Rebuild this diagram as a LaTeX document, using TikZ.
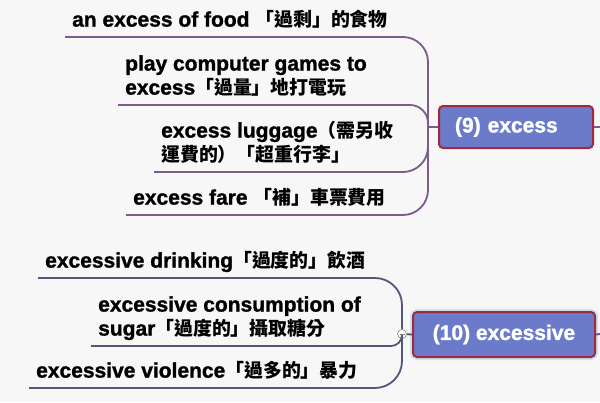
\documentclass[tikz,border=0pt]{standalone}
\usepackage{fontspec}
\setmainfont{Liberation Sans}[BoldFeatures={FakeBold=1.3}]
\newfontfamily\cjk{Noto Sans CJK TC}[Scale=0.9]
\usetikzlibrary{positioning}
\newcommand{\zh}[1]{{\cjk\bfseries #1}}
\definecolor{bgcol}{HTML}{F7F7F7}
\definecolor{linkA}{HTML}{7D5B8C}
\definecolor{linkB}{HTML}{55557A}
\definecolor{boxfill}{HTML}{6C7BC9}
\definecolor{boxline}{HTML}{A3283F}
\definecolor{glow}{HTML}{C4E6E8}

\begin{document}
\begin{tikzpicture}[x=1pt,y=-1pt,
	leaf/.style={anchor=south west,inner xsep=7pt,inner ysep=3pt,align=left,font=\fontsize{21}{24}\selectfont\bfseries,execute at end node=\strut},
	topic/.style={draw=boxline,fill=boxfill,line width=2pt,rounded corners=4pt,text=white,font=\fontsize{21}{24}\selectfont\bfseries},
	branchA/.style={draw=linkA,line width=1.8pt},
	branchB/.style={draw=linkB,line width=1.8pt}]
	\fill[bgcol] (0,0) rectangle (600,402);
	\useasboundingbox (0,0) rectangle (600,402);
	% (9) excess
	\node[topic,text width=122pt,inner xsep=16pt,minimum height=42pt,align=left] (excess) at (516,127) {(9) excess};
	\coordinate (j9) at (428,127);
	\coordinate (out9) at (600,127);
	\node[leaf] (food) at (65,37) {an excess of food \zh{「過剩」的食物}};
	\node[leaf] (games) at (118,105) {play computer games to\\excess\zh{「過量」地打電玩}};
	\node[leaf] (luggage) at (154,172) {excess luggage\zh{（需另收}\\\zh{運費的）「超重行李」}};
	\node[leaf] (fare) at (126,215) {excess fare \zh{「補」車票費用}};
	% (10) excessive
	\node[topic,minimum width=182pt,minimum height=45pt,preaction={draw=glow,line width=6pt}] (excessive) at (504,334.5) {(10) excessive};
	\node[circle,draw=gray,fill=white,line width=0.6pt,inner sep=0pt,minimum size=9pt,
		path picture={\draw[gray,line width=0.8pt] ([xshift=-2.5pt]path picture bounding box.center) -- ([xshift=2.5pt]path picture bounding box.center);}] (j10) at (402,334) {};
	\coordinate (out10) at (600,334);
	\node[leaf] (drinking) at (38,278) {excessive drinking\zh{「過度的」飲酒}};
	\node[leaf] (sugar) at (91,346) {excessive consumption of\\sugar\zh{「過度的」攝取糖分}};
	\node[leaf] (violence) at (29,388) {excessive violence\zh{「過多的」暴力}};

	\draw[branchA] (j9) -- (excess.west) (excess.east) -- (out9);
	\draw[branchA,rounded corners=25pt] (food.south west) -- (food.south west -| j9) -- (j9);
	\draw[branchA,rounded corners=18pt] (games.south west) -- (games.south west -| j9) -- (j9);
	\draw[branchA,rounded corners=25pt] (luggage.south west) -- (luggage.south west -| j9) -- (j9);
	\draw[branchA,rounded corners=25pt] (fare.south west) -- (fare.south west -| j9) -- (j9);

	\draw[branchB] (j10) -- (excessive.west) (excessive.east) -- (out10);
	\draw[branchB,rounded corners=27pt] (drinking.south west) -- (drinking.south west -| j10) -- (j10);
	\draw[branchB,rounded corners=11pt] (sugar.south west) -- (sugar.south west -| j10) -- (j10);
	\draw[branchB,rounded corners=27pt] (violence.south west) -- (violence.south west -| j10) -- (j10);
\end{tikzpicture}
\end{document}
